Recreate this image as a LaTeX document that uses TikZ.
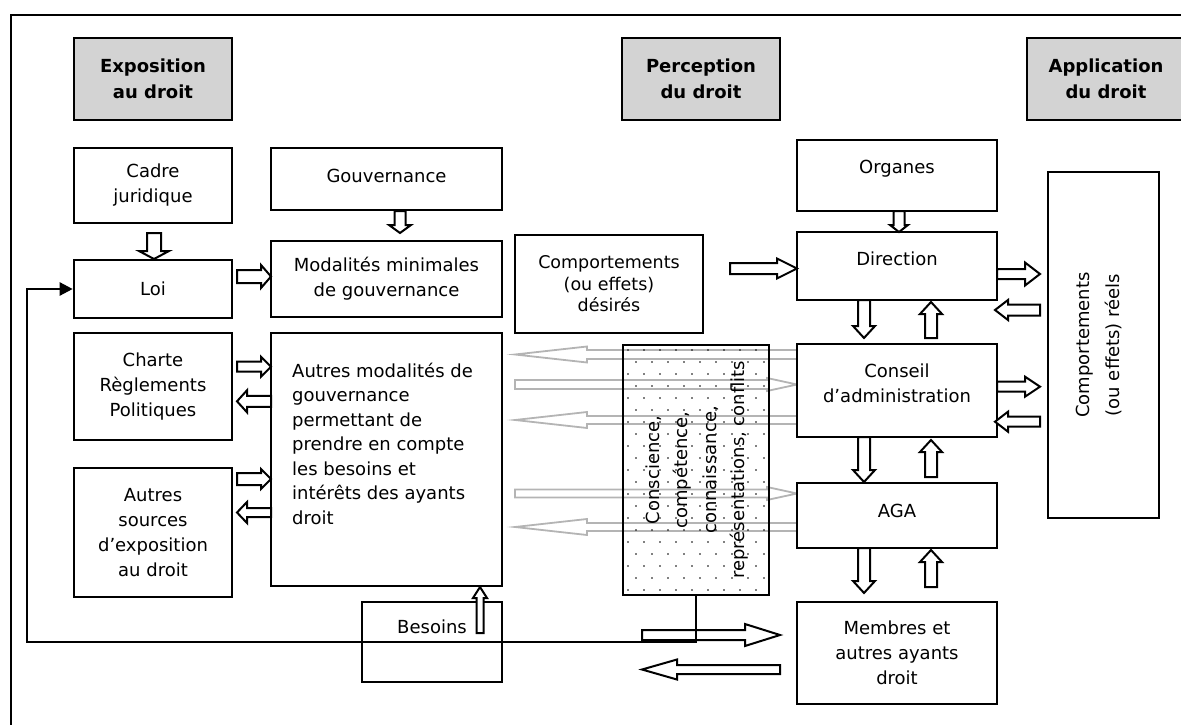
\documentclass[tikz,border=0pt]{standalone}
\usepackage{fontspec}
\setmainfont{DejaVu Sans}
\usetikzlibrary{arrows.meta}

\definecolor{headgray}{RGB}{211,211,211}
\definecolor{arrowgray}{RGB}{180,180,180}

\tikzset{
  box/.style={draw=black, line width=2.6pt, fill=white, inner sep=0pt, align=center,
              font=\fontsize{18}{25}\selectfont},
  headbox/.style={box, fill=headgray, font=\bfseries\fontsize{18}{26}\selectfont},
  txt/.style={inner sep=0pt, align=center, font=\fontsize{18}{25}\selectfont},
  blockarr/.style={draw=black, line width=2pt, fill=white, line join=miter},
  greyarr/.style={draw=arrowgray, line width=1.8pt, fill=white, line join=miter},
  feedback/.style={draw=black, line width=2.4pt, line join=miter,
                   -{Triangle[length=13pt,width=13pt]}},
}

% hollow block arrows: [style]{axis position}{from}{to}{shaft half}{head half}{head length}
\newcommand\harr[7][blockarr]{%
  \pgfmathsetmacro\arrdir{(#4>#3) ? 1 : -1}%
  \pgfmathsetmacro\arrbase{#4-\arrdir*#7}%
  \path[#1] (#3,{#2-#5}) -- (\arrbase,{#2-#5}) -- (\arrbase,{#2-#6}) -- (#4,#2)
        -- (\arrbase,{#2+#6}) -- (\arrbase,{#2+#5}) -- (#3,{#2+#5}) -- cycle;}
\newcommand\varr[7][blockarr]{%
  \pgfmathsetmacro\arrdir{(#4>#3) ? 1 : -1}%
  \pgfmathsetmacro\arrbase{#4-\arrdir*#7}%
  \path[#1] ({#2-#5},#3) -- ({#2-#5},\arrbase) -- ({#2-#6},\arrbase) -- (#2,#4)
        -- ({#2+#6},\arrbase) -- ({#2+#5},\arrbase) -- ({#2+#5},#3) -- cycle;}

\begin{document}
\begin{tikzpicture}[x=1pt, y=-1pt]
\useasboundingbox (0,0) rectangle (1181,725);

% outer frame
\draw[line width=2.5pt] (11,725) -- (11,15) -- (1181,15);

% column headers
\node[headbox, minimum width=158pt, minimum height=82pt] (hexp) at (153,79) {Exposition\\au droit};
\node[headbox, minimum width=158pt, minimum height=82pt] (hper) at (701,79) {Perception\\du droit};
\node[headbox, minimum width=158pt, minimum height=82pt] (happ) at (1106,79) {Application\\du droit};

% light grey exchange arrows behind the dotted box
\harr[greyarr]{354.5}{797}{515}{4.5}{8}{72}
\harr[greyarr]{384.5}{515}{797}{4.5}{6.5}{30}
\harr[greyarr]{420}{797}{515}{4}{8}{72}
\harr[greyarr]{493.5}{515}{797}{4}{6.5}{30}
\harr[greyarr]{527}{797}{515}{4}{8}{72}

% dotted filter box
\begin{scope}
  \clip (623,345) rectangle (769,595);
  \foreach \r in {0,...,21} {
    \foreach \c in {0,...,9} {
      \fill ({628+16*\c+8*mod(\r,2)}, {350+12*\r}) circle (0.9);
    }
  }
\end{scope}
\node[box, fill=none, minimum width=146pt, minimum height=250pt] (filt) at (696,470) {};
\node[txt, rotate=90, font=\fontsize{18}{28.5}\selectfont] (filtT) at (697,470)
  {Conscience,\\compétence,\\connaissance,\\représentations, conflits};

% left column
\node[box, minimum width=158pt, minimum height=75pt] (cadre) at (153,185.5) {Cadre\\juridique};
\node[box, minimum width=158pt, minimum height=58pt] (loi) at (153,289) {Loi};
\node[box, minimum width=158pt, minimum height=107pt] (charte) at (153,386.5) {Charte\\Règlements\\Politiques};
\node[box, minimum width=158pt, minimum height=129pt] (sources) at (153,532.5) {Autres\\sources\\d’exposition\\au droit};

% governance column
\node[box, minimum width=231pt, minimum height=62pt] (gouv) at (386.5,179) {};
\node[txt, anchor=base] (gouvT) at (386.5,182) {Gouvernance};
\node[box, minimum width=231pt, minimum height=76pt] (modmin) at (386.5,279) {Modalités minimales\\de gouvernance};
\node[box, minimum width=231pt, minimum height=253pt] (autres) at (386.5,459.5) {};
\node[txt, align=left, anchor=north west, font=\fontsize{18}{24.5}\selectfont] (autresT) at (292,362.5)
  {Autres modalités de\\gouvernance\\permettant de\\prendre en compte\\les besoins et\\intérêts des ayants\\droit};
\node[box, minimum width=140pt, minimum height=80pt] (besoins) at (432,642) {};
\node[txt, anchor=base] (besoinsT) at (432,633) {Besoins};

% desired behaviour
\node[box, minimum width=188pt, minimum height=98pt, font=\fontsize{17.5}{21.5}\selectfont] (desir) at (609,284)
  {Comportements\\(ou effets)\\désirés};

% organs column
\node[box, minimum width=200pt, minimum height=71pt] (org) at (897,175.5) {};
\node[txt, anchor=base] (orgT) at (897,173) {Organes};
\node[box, minimum width=200pt, minimum height=68pt] (dir) at (897,266) {};
\node[txt, anchor=base] (dirT) at (897,265) {Direction};
\node[box, minimum width=200pt, minimum height=93pt] (cons) at (897,390.5) {};
\node[txt, anchor=north] (consT) at (897,363.3) {Conseil\\d’administration};
\node[box, minimum width=200pt, minimum height=65pt] (aga) at (897,515.5) {};
\node[txt, anchor=base] (agaT) at (897,517) {AGA};
\node[box, minimum width=200pt, minimum height=102pt] (memb) at (897,653) {Membres et\\autres ayants\\droit};

% actual behaviour
\node[box, minimum width=111pt, minimum height=346pt] (reels) at (1103.5,345) {};
\node[txt, rotate=90, font=\fontsize{18}{30}\selectfont] (reelsT) at (1099,345)
  {Comportements\\(ou effets) réels};

% block arrows, left part
\varr{154}{233}{259}{7}{15}{8}
\varr{400}{211}{233}{5.5}{11}{8}
\harr{276.5}{237}{271}{6.5}{11.5}{10}
\harr{366.7}{237}{271}{5}{10}{10}
\harr{401.3}{271}{237}{5.5}{11}{10}
\harr{479}{237}{271}{6}{10}{10}
\harr{512.5}{271}{237}{4.5}{10.5}{10}
\varr{480}{633}{587}{3.5}{7}{11}

% block arrows, right part
\harr{268.5}{730}{797}{5.5}{10}{20}
\varr{899}{211}{232}{5.5}{9}{7}
\harr{274}{997}{1040}{5}{11.5}{15}
\harr{310}{1040}{995}{5.5}{10}{13}
\harr{386.7}{997}{1040}{5}{10}{15}
\harr{421.7}{1040}{995}{5}{10}{13}
\varr{864}{300}{338}{6}{11}{12}
\varr{931}{338}{302}{6}{11}{12}
\varr{864}{437}{482}{6}{11}{12}
\varr{931}{477}{440}{6}{11}{12}
\varr{864}{548}{593}{6}{11}{12}
\varr{931}{587}{550}{6}{11}{12}

% exchange with members
\harr{635}{642}{780}{5}{11}{35}
\harr{669.5}{780}{642}{4.5}{10}{35}

% feedback loop back to the law
\coordinate (fbcorner) at (27,642);
\draw[feedback] (filt.south) -- (filt.south |- fbcorner) -- (fbcorner) |- (loi.west);

\end{tikzpicture}
\end{document}
